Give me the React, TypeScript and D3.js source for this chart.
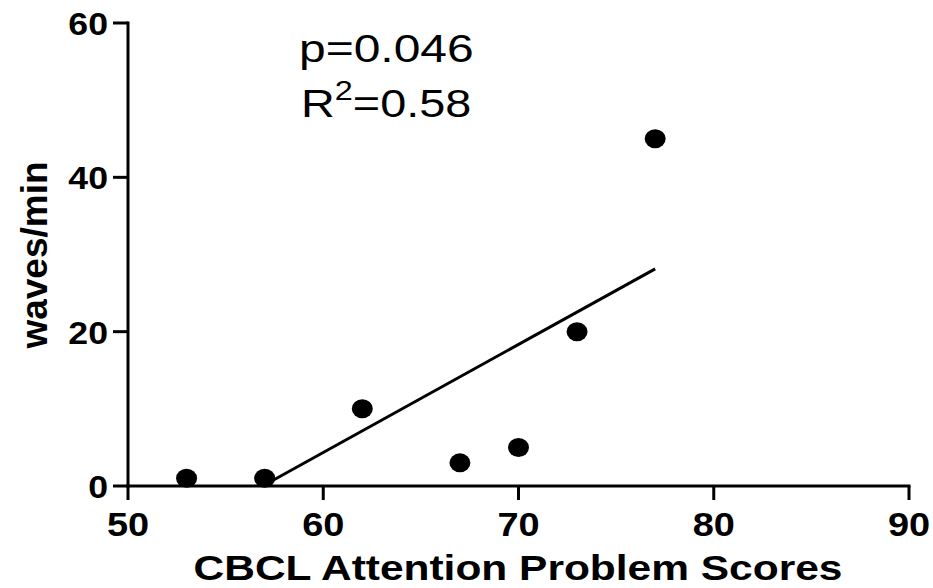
import React from "react";
import * as d3 from "d3";

const scoresX = [53, 57, 62, 67, 70, 73, 77];
const wavesY = [1, 1, 10, 3, 5, 20, 45];
const xTicks = [50, 60, 70, 80, 90];
const yTicks = [0, 20, 40, 60];
const xTitle = "CBCL Attention Problem Scores";
const yTitle = "waves/min";
const pText = "p=0.046";
const r2Value = "=0.58";

const W = 933;
const H = 588;
const FONT = "'Liberation Sans', Arial, Helvetica, sans-serif";
const SX = 1.15;

export default function App() {
  const x = d3.scaleLinear().domain([50, 90]).range([128, 909]);
  const y = d3.scaleLinear().domain([0, 60]).range([486, 23]);

  const mx = d3.mean(scoresX) as number;
  const my = d3.mean(wavesY) as number;
  let sxy = 0, sxx = 0;
  scoresX.forEach((v, i) => {
    sxy += (v - mx) * (wavesY[i] - my);
    sxx += (v - mx) * (v - mx);
  });
  const slope = sxy / sxx;
  const intercept = my - slope * mx;
  const x0 = Math.max(d3.min(scoresX) as number, -intercept / slope);
  const x1 = d3.max(scoresX) as number;
  const line = d3.line<[number, number]>().x(d => x(d[0])).y(d => y(d[1]));
  const fitPath = line([[x0, slope * x0 + intercept], [x1, slope * x1 + intercept]]) || "";

  const stroke = "#000";
  return (
    <svg width={W} height={H} style={{ position: "absolute", left: 0, top: 0, background: "#fff" }} fontFamily={FONT}>
      {/* axes */}
      <line x1={x(50)} x2={x(50)} y1={y(60)} y2={y(0)} stroke={stroke} strokeWidth={3} strokeLinecap="square" />
      <line x1={x(50)} x2={x(90)} y1={y(0)} y2={y(0)} stroke={stroke} strokeWidth={3} strokeLinecap="square" />
      {yTicks.map(t => (
        <g key={"y" + t}>
          <line x1={x(50) - 15} x2={x(50)} y1={y(t)} y2={y(t)} stroke={stroke} strokeWidth={3} />
          <text transform={`translate(${x(50) - 20},${y(t) + 12}) scale(${SX},1)`} textAnchor="end" fontSize={31} fontWeight="bold">{t}</text>
        </g>
      ))}
      {xTicks.map(t => (
        <g key={"x" + t}>
          <line x1={x(t)} x2={x(t)} y1={y(0)} y2={y(0) + 14} stroke={stroke} strokeWidth={3} />
          <text transform={`translate(${x(t)},536) scale(${SX},1)`} textAnchor="middle" fontSize={33} fontWeight="bold">{t}</text>
        </g>
      ))}
      {/* regression line */}
      <path d={fitPath} stroke={stroke} strokeWidth={3} fill="none" />
      {/* points */}
      {scoresX.map((v, i) => (
        <ellipse key={i} cx={x(v)} cy={y(wavesY[i])} rx={10.5} ry={9.5} fill="#000" />
      ))}
      {/* titles */}
      <text transform="translate(518,580) scale(1.18,1)" textAnchor="middle" fontSize={36} fontWeight="bold">{xTitle}</text>
      <text transform="translate(47,255) rotate(-90)" textAnchor="middle" fontSize={37} fontWeight="bold">{yTitle}</text>
      {/* stats */}
      <text transform="translate(299,62) scale(1.23,1)" fontSize={39}>{pText}</text>
      <text transform="translate(301,117) scale(1.2,1)" fontSize={39}>
        R<tspan dy={-17} fontSize={27}>2</tspan><tspan dy={17}>{r2Value}</tspan>
      </text>
    </svg>
  );
}
